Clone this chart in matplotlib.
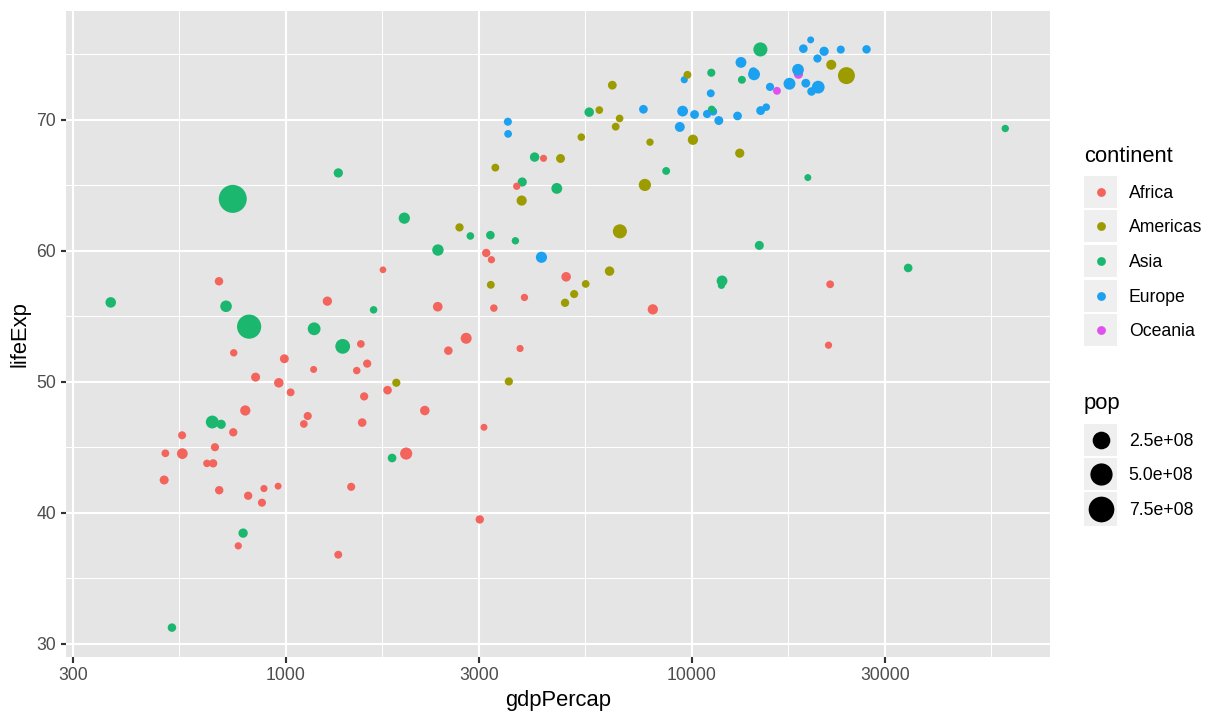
import numpy as np
import matplotlib.pyplot as plt
from matplotlib.patches import Rectangle
from matplotlib.lines import Line2D
from matplotlib.ticker import FixedLocator, NullFormatter

plt.rcParams['font.family'] = ['Liberation Sans', 'DejaVu Sans']

# gapminder, year 1977 (countries in alphabetical order = drawing order)
countries = ["Afghanistan", "Albania", "Algeria", "Angola", "Argentina", "Australia", "Austria",
             "Bahrain", "Bangladesh", "Belgium", "Benin", "Bolivia", "Bosnia and Herzegovina",
             "Botswana", "Brazil", "Bulgaria", "Burkina Faso", "Burundi", "Cambodia", "Cameroon",
             "Canada", "Central African Republic", "Chad", "Chile", "China", "Colombia", "Comoros",
             "Congo, Dem. Rep.", "Congo, Rep.", "Costa Rica", "Cote d'Ivoire", "Croatia", "Cuba",
             "Czech Republic", "Denmark", "Djibouti", "Dominican Republic", "Ecuador", "Egypt",
             "El Salvador", "Equatorial Guinea", "Eritrea", "Ethiopia", "Finland", "France", "Gabon",
             "Gambia", "Germany", "Ghana", "Greece", "Guatemala", "Guinea", "Guinea-Bissau", "Haiti",
             "Honduras", "Hong Kong", "Hungary", "Iceland", "India", "Indonesia", "Iran", "Iraq",
             "Ireland", "Israel", "Italy", "Jamaica", "Japan", "Jordan", "Kenya", "Korea, Dem. Rep.",
             "Korea, Rep.", "Kuwait", "Lebanon", "Lesotho", "Liberia", "Libya", "Madagascar", "Malawi",
             "Malaysia", "Mali", "Mauritania", "Mauritius", "Mexico", "Mongolia", "Montenegro",
             "Morocco", "Mozambique", "Myanmar", "Namibia", "Nepal", "Netherlands", "New Zealand",
             "Nicaragua", "Niger", "Nigeria", "Norway", "Oman", "Pakistan", "Panama", "Paraguay",
             "Peru", "Philippines", "Poland", "Portugal", "Puerto Rico", "Reunion", "Romania", "Rwanda",
             "Sao Tome and Principe", "Saudi Arabia", "Senegal", "Serbia", "Sierra Leone", "Singapore",
             "Slovak Republic", "Slovenia", "Somalia", "South Africa", "Spain", "Sri Lanka", "Sudan",
             "Swaziland", "Sweden", "Switzerland", "Syria", "Taiwan", "Tanzania", "Thailand", "Togo",
             "Trinidad and Tobago", "Tunisia", "Turkey", "Uganda", "United Kingdom", "United States",
             "Uruguay", "Venezuela", "Vietnam", "West Bank and Gaza", "Yemen, Rep.", "Zambia", "Zimbabwe"]

continent = ["Asia", "Europe", "Africa", "Africa", "Americas", "Oceania", "Europe",
             "Asia", "Asia", "Europe", "Africa", "Americas", "Europe",
             "Africa", "Americas", "Europe", "Africa", "Africa", "Asia", "Africa",
             "Americas", "Africa", "Africa", "Americas", "Asia", "Americas", "Africa",
             "Africa", "Africa", "Americas", "Africa", "Europe", "Americas",
             "Europe", "Europe", "Africa", "Americas", "Americas", "Africa",
             "Americas", "Africa", "Africa", "Africa", "Europe", "Europe", "Africa",
             "Africa", "Europe", "Africa", "Europe", "Americas", "Africa", "Africa", "Americas",
             "Americas", "Asia", "Europe", "Europe", "Asia", "Asia", "Asia", "Asia",
             "Europe", "Asia", "Europe", "Americas", "Asia", "Asia", "Africa", "Asia",
             "Asia", "Asia", "Asia", "Africa", "Africa", "Africa", "Africa", "Africa",
             "Asia", "Africa", "Africa", "Africa", "Americas", "Asia", "Europe",
             "Africa", "Africa", "Asia", "Africa", "Asia", "Europe", "Oceania",
             "Americas", "Africa", "Africa", "Europe", "Asia", "Asia", "Americas", "Americas",
             "Americas", "Asia", "Europe", "Europe", "Americas", "Africa", "Europe", "Africa",
             "Africa", "Asia", "Africa", "Europe", "Africa", "Asia",
             "Europe", "Europe", "Africa", "Africa", "Europe", "Asia", "Africa",
             "Africa", "Europe", "Europe", "Asia", "Asia", "Africa", "Asia", "Africa",
             "Americas", "Africa", "Europe", "Africa", "Europe", "Americas",
             "Americas", "Americas", "Asia", "Asia", "Asia", "Africa", "Africa"]

life_exp = [38.438, 68.93, 58.014, 39.483, 68.481, 73.49, 72.17,
            65.593, 46.923, 72.8, 49.19, 50.023, 69.86,
            59.319, 61.489, 70.81, 46.137, 45.91, 31.22, 49.355,
            74.21, 46.775, 47.383, 67.052, 63.967, 63.837, 50.939,
            47.804, 55.625, 70.75, 52.374, 70.64, 72.649,
            70.71, 74.69, 46.519, 61.788, 61.31, 53.319,
            56.696, 42.024, 44.535, 44.51, 72.52, 73.83, 52.79,
            41.842, 72.5, 51.756, 73.68, 56.029, 40.762, 37.465, 49.923,
            57.402, 73.6, 69.95, 76.11, 54.208, 52.702, 57.702, 60.413,
            72.03, 73.06, 73.48, 70.11, 75.38, 61.134, 56.155, 67.159,
            64.766, 69.343, 66.099, 52.208, 43.764, 57.442, 46.881, 43.767,
            65.256, 41.714, 50.852, 64.93, 65.032, 55.491, 73.066,
            55.73, 42.495, 56.059, 56.437, 46.748, 75.24, 72.22,
            57.47, 41.291, 44.514, 75.37, 57.367, 54.043, 68.681, 66.353,
            58.447, 60.06, 70.67, 70.41, 73.44, 67.064, 69.46, 45.0,
            58.55, 58.69, 48.879, 70.3, 36.788, 70.795,
            70.45, 70.97, 41.974, 55.527, 74.39, 65.949, 47.8,
            52.537, 75.44, 75.39, 61.195, 70.59, 49.919, 62.494, 52.887,
            68.3, 59.837, 59.507, 50.35, 72.76, 73.38,
            69.481, 67.456, 55.764, 60.765, 44.175, 51.386, 57.674]

pop = [14880372, 2509048, 17152804, 6162675, 26983828, 14074100, 7568430,
       297410, 80428306, 9821800, 3168267, 5079716, 4086000,
       781472, 114313951, 8797022, 5703324, 3834415, 6978607, 7959865,
       23796400, 2167533, 4388260, 10599793, 943455000, 25094412, 304739,
       26480870, 1536769, 2108457, 7459574, 4318673, 9537988,
       10161915, 5088419, 228694, 5302800, 7278866, 38783863,
       4282586, 192675, 2512642, 34617799, 4738902, 53165019, 706367,
       608274, 78160773, 10538093, 9308479, 5703430, 4227026, 745228, 4908554,
       3055235, 4583700, 10637171, 221823, 634000000, 136725000, 35480679, 11882916,
       3271900, 3495918, 56059245, 2156814, 113872473, 1937652, 14500404, 16325320,
       36436000, 1140357, 3115787, 1251524, 1703617, 2721783, 8007166, 5637246,
       12845381, 6491649, 1456688, 913025, 63759976, 1528000, 560073,
       18396941, 11127868, 31528087, 977026, 13933198, 13852989, 3164900,
       2554598, 5682086, 62209173, 4043205, 1004533, 78152686, 1839782, 2984494,
       15990099, 46850962, 34621254, 9662600, 3080828, 492095, 21658597, 4657072,
       86796, 8128505, 5260855, 8686367, 3140897, 2325300,
       4827803, 1746919, 4353666, 27129932, 36439000, 14116836, 17104986,
       551425, 8251648, 6316424, 7932503, 16785196, 17129565, 44148285, 2308582,
       1039009, 6005061, 42404033, 11457758, 56179000, 220239000,
       2873520, 13503563, 50533506, 1261091, 8403990, 5216550, 6642107]

gdp_percap = [786.11, 3533.00, 4910.42, 3008.65, 10079.03, 18334.20, 19749.42,
              19340.10, 659.88, 19117.97, 1029.16, 3548.10, 3528.48,
              3214.86, 6660.12, 7612.24, 743.39, 556.10, 524.97, 1783.43,
              22090.88, 1109.37, 1133.98, 4756.76, 741.24, 3815.81, 1172.60,
              795.76, 3259.18, 5926.88, 2517.74, 11305.39, 6380.49,
              14800.16, 20422.90, 3081.76, 2681.99, 6679.62, 2785.49,
              5138.92, 958.57, 505.75, 556.81, 15605.42, 18292.64, 21745.57,
              884.76, 20512.92, 993.22, 14195.52, 4879.99, 874.69, 764.73, 1874.30,
              3203.21, 11186.14, 11674.84, 19654.96, 813.34, 1382.70, 11888.60, 14688.24,
              11150.98, 13306.62, 14255.98, 6650.20, 14778.79, 2852.35, 1267.61, 4106.30,
              4657.22, 59265.48, 8659.70, 745.37, 640.32, 21951.21, 1544.23, 663.22,
              3827.92, 686.40, 1497.49, 3710.98, 7674.93, 1647.51, 9595.93,
              2370.62, 502.32, 371.00, 3876.49, 694.11, 21209.06, 16233.72,
              5486.37, 808.90, 1981.95, 23311.35, 11848.34, 1175.92, 5351.91, 3286.85,
              6281.29, 2373.20, 9508.14, 10172.49, 9770.52, 4319.80, 9356.40, 670.08,
              1737.56, 34167.76, 1561.77, 12980.67, 1348.29, 11210.09,
              10922.66, 15277.03, 1450.99, 8028.65, 13236.92, 1348.78, 2202.99,
              3781.41, 18855.73, 26982.29, 3195.48, 5596.52, 962.49, 1961.22, 1532.78,
              7899.55, 3120.88, 4269.12, 843.73, 17428.75, 24072.63,
              6504.34, 13143.95, 713.54, 3682.63, 1829.77, 1588.69, 685.59]

continents = ["Africa", "Americas", "Asia", "Europe", "Oceania"]
hue = ["#F2645C", "#9C9B00", "#1CB76F", "#1CA0F0", "#DF52EE"]
x_ticks = [300, 1000, 3000, 10000, 30000]
y_ticks = [30, 40, 50, 60, 70]
pop_breaks = [2.5e8, 5.0e8, 7.5e8]
pop_labels = ["2.5e+08", "5.0e+08", "7.5e+08"]

W, H = 1224, 720
pmin, pmax = min(pop), max(pop)


def size_of(p):
    # ggplot-like area scale, range 1..6
    return 1 + 5 * np.sqrt((np.asarray(p, dtype=float) - pmin) / (pmax - pmin))


def diam(size):
    return 2.134 * size + 1.2


def fx(x):
    return x / W


def fy(y):
    return 1 - y / H


fig = plt.figure(figsize=(W / 144, H / 144), dpi=144)
ax = fig.add_axes([66 / W, 63 / H, 984 / W, 646.5 / H])
ax.set_facecolor("#E5E5E5")
for s in ax.spines.values():
    s.set_visible(False)

ax.set_xscale("log")
lx = np.log10(gdp_percap)
xr = lx.max() - lx.min()
ax.set_xlim(10 ** (lx.min() - 0.05 * xr), 10 ** (lx.max() + 0.05 * xr))
yr = max(life_exp) - min(life_exp)
ax.set_ylim(min(life_exp) - 0.05 * yr, max(life_exp) + 0.05 * yr)

# minor breaks halfway between majors in log space, one step past the last
lt = np.log10(x_ticks)
ext = np.append(lt, lt[-1] + (lt[1] - lt[0]))
x_minor = 10 ** ((ext[:-1] + ext[1:]) / 2)
ax.xaxis.set_major_locator(FixedLocator(x_ticks))
ax.xaxis.set_minor_locator(FixedLocator(x_minor))
ax.xaxis.set_minor_formatter(NullFormatter())
ax.set_xticklabels([str(t) for t in x_ticks])
ax.yaxis.set_major_locator(FixedLocator(y_ticks))
ax.yaxis.set_minor_locator(FixedLocator([35, 45, 55, 65, 75]))

ax.grid(which="major", color="white", lw=1.07)
ax.grid(which="minor", color="white", lw=0.53)
ax.set_axisbelow(True)
ax.tick_params(which="major", length=2.75, width=1.07, color="#333333",
               labelcolor="#4D4D4D", labelsize=8.8, pad=2.2)
ax.tick_params(which="minor", length=0)

cmap = dict(zip(continents, hue))
colors = [cmap[c] for c in continent]
ax.scatter(gdp_percap, life_exp, s=diam(size_of(pop)) ** 2, c=colors,
           linewidths=0, zorder=3)

ax.set_xlabel("gdpPercap", fontsize=11, labelpad=3)
ax.set_ylabel("lifeExp", fontsize=11, labelpad=3)

# legend: continent
fig.text(fx(1084), fy(156.5), "continent", fontsize=11, va="center", ha="left")
for i, (name, col) in enumerate(zip(continents, hue)):
    cy = 191.7 + i * 34.6
    fig.add_artist(Rectangle((fx(1084), fy(cy + 16)), 33 / W, 32 / H,
                             transform=fig.transFigure, facecolor="#EFEFEF", edgecolor="none"))
    fig.add_artist(Line2D([fx(1100.5)], [fy(cy)], marker="o", markersize=diam(1.5),
                          color=col, markeredgewidth=0, linestyle="none",
                          transform=fig.transFigure))
    fig.text(fx(1128.7), fy(cy + 1.5), name, fontsize=8.8, va="center", ha="left")

# legend: pop
fig.text(fx(1084), fy(403), "pop", fontsize=11, va="center", ha="left")
centers = [440, 473.5, 509]
heights = [32, 32, 34]
for b, lab, cy, hh in zip(pop_breaks, pop_labels, centers, heights):
    fig.add_artist(Rectangle((fx(1084), fy(cy + hh / 2)), 33 / W, hh / H,
                             transform=fig.transFigure, facecolor="#EFEFEF", edgecolor="none"))
    fig.add_artist(Line2D([fx(1100.5)], [fy(cy)], marker="o", markersize=diam(size_of(b)),
                          color="black", markeredgewidth=0, linestyle="none",
                          transform=fig.transFigure))
    fig.text(fx(1128.7), fy(cy + 1.5), lab, fontsize=8.8, va="center", ha="left")

fig.savefig("out.png", dpi=144, facecolor="white")
